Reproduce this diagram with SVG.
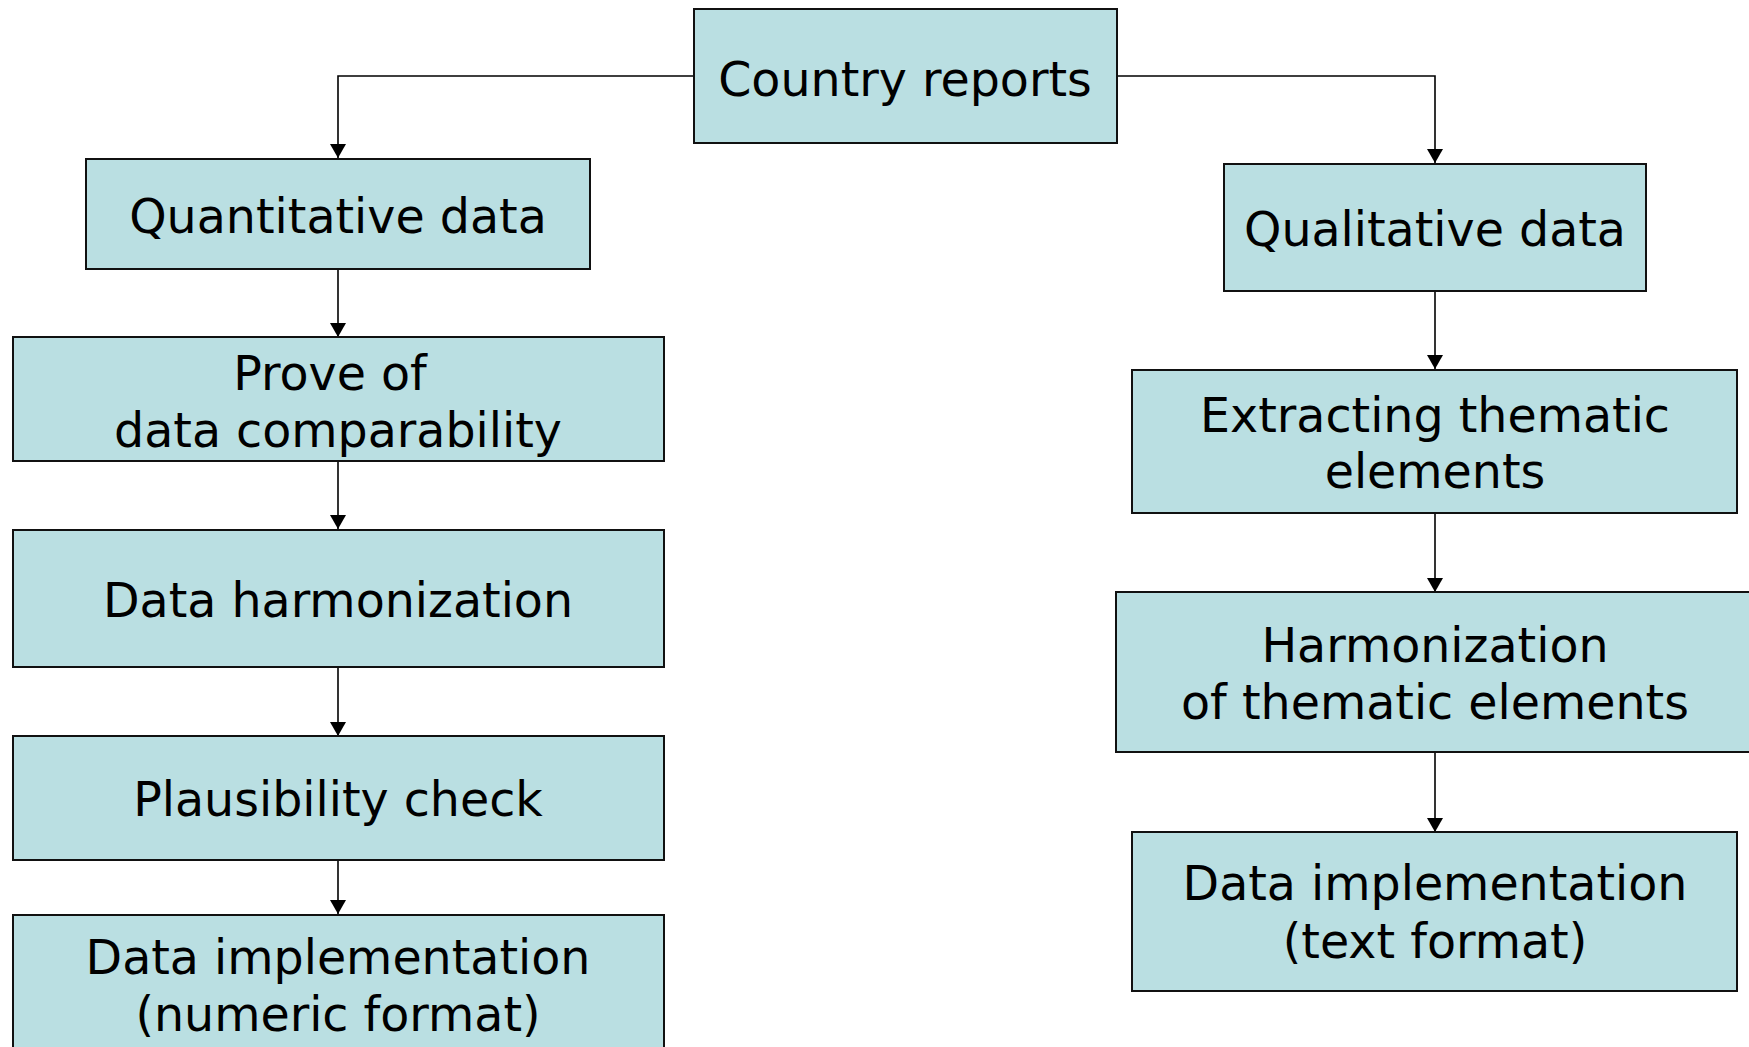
<svg xmlns="http://www.w3.org/2000/svg" width="1749" height="1047" viewBox="0 0 1749 1047">
<style>
.box{fill:#BADFE2;stroke:#111;stroke-width:2}
.t{font-family:"DejaVu Sans",Verdana,sans-serif;font-size:47.5px;fill:#000;text-anchor:middle}
.c{fill:none;stroke:#000;stroke-width:1.6}
</style>
<defs>
<marker id="ah" viewBox="0 0 14 16" refX="14" refY="8" markerWidth="14" markerHeight="16" markerUnits="userSpaceOnUse" orient="auto">
<path d="M0,0 L14,8 L0,16 Z" fill="#000"/>
</marker>
</defs>
<rect width="1749" height="1047" fill="#fff"/>
<g id="connectors">
<path class="c" d="M694,76 H338 V158" marker-end="url(#ah)"/>
<path class="c" d="M1117,76 H1435 V163" marker-end="url(#ah)"/>
<path class="c" d="M338,269 V337" marker-end="url(#ah)"/>
<path class="c" d="M338,461 V529" marker-end="url(#ah)"/>
<path class="c" d="M338,667 V736" marker-end="url(#ah)"/>
<path class="c" d="M338,860 V914" marker-end="url(#ah)"/>
<path class="c" d="M1435,291 V369" marker-end="url(#ah)"/>
<path class="c" d="M1435,513 V592" marker-end="url(#ah)"/>
<path class="c" d="M1435,752 V832" marker-end="url(#ah)"/>
</g>
<g id="country-reports">
<rect class="box" x="694" y="9" width="423" height="134"/>
<text class="t" x="905" y="96">Country reports</text>
</g>
<g id="quantitative-data">
<rect class="box" x="86" y="159" width="504" height="110"/>
<text class="t" x="338" y="233">Quantitative data</text>
</g>
<g id="prove-comparability">
<rect class="box" x="13" y="337" width="651" height="124"/>
<text class="t" x="330" y="390">Prove of</text>
<text class="t" x="338" y="447">data comparability</text>
</g>
<g id="data-harmonization">
<rect class="box" x="13" y="530" width="651" height="137"/>
<text class="t" x="338" y="617">Data harmonization</text>
</g>
<g id="plausibility-check">
<rect class="box" x="13" y="736" width="651" height="124"/>
<text class="t" x="338" y="816">Plausibility check</text>
</g>
<g id="data-impl-numeric">
<rect class="box" x="13" y="915" width="651" height="140"/>
<text class="t" x="338" y="974">Data implementation</text>
<text class="t" x="338" y="1031">(numeric format)</text>
</g>
<g id="qualitative-data">
<rect class="box" x="1224" y="164" width="422" height="127"/>
<text class="t" x="1435" y="246">Qualitative data</text>
</g>
<g id="extracting-thematic">
<rect class="box" x="1132" y="370" width="605" height="143"/>
<text class="t" x="1435" y="432">Extracting thematic</text>
<text class="t" x="1435" y="488">elements</text>
</g>
<g id="harmonization-thematic">
<rect class="box" x="1116" y="592" width="640" height="160"/>
<text class="t" x="1435" y="662">Harmonization</text>
<text class="t" x="1435" y="719">of thematic elements</text>
</g>
<g id="data-impl-text">
<rect class="box" x="1132" y="832" width="605" height="159"/>
<text class="t" x="1435" y="900">Data implementation</text>
<text class="t" x="1435" y="958">(text format)</text>
</g>
</svg>
